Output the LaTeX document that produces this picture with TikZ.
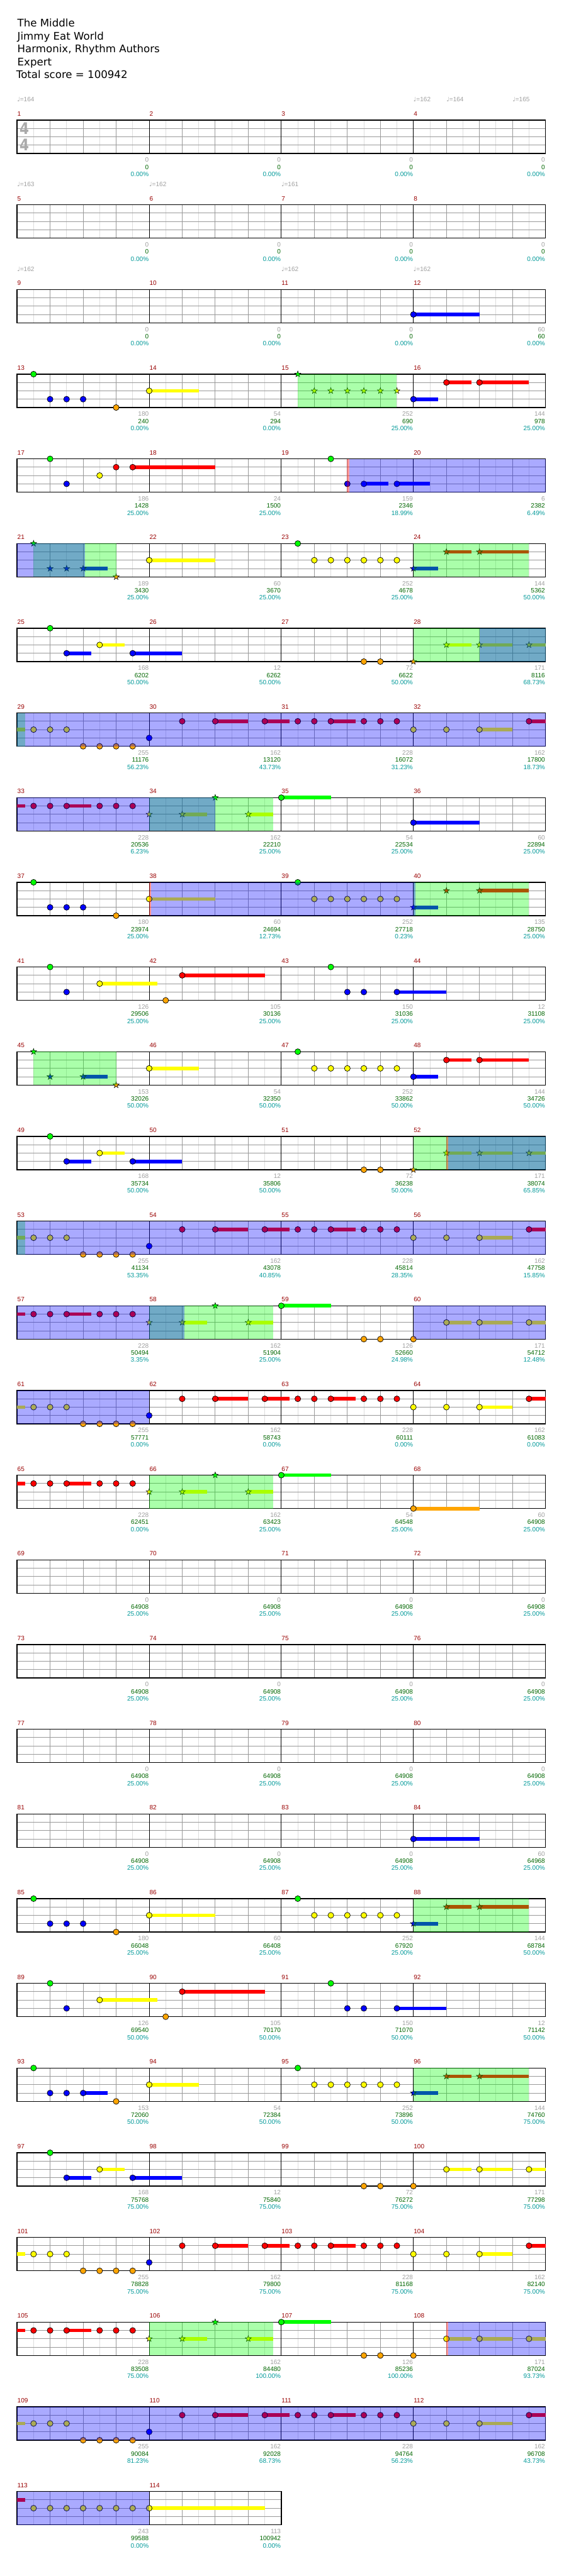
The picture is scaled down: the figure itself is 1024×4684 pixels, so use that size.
\documentclass[tikz,border=0pt]{standalone}
\usepackage{fontspec}
\setmainfont{Liberation Sans}
\newfontfamily\djv{DejaVu Sans}
\definecolor{cG}{RGB}{0,255,0}
\definecolor{cR}{RGB}{255,0,0}
\definecolor{cY}{RGB}{255,255,0}
\definecolor{cB}{RGB}{0,0,255}
\definecolor{cO}{RGB}{255,165,0}
\definecolor{mnum}{RGB}{153,0,0}
\definecolor{lgray}{RGB}{160,160,160}
\definecolor{lgreen}{RGB}{0,102,0}
\definecolor{lcyan}{RGB}{0,153,153}
\definecolor{gridA}{RGB}{221,221,221}
\definecolor{gridB}{RGB}{153,153,153}
\definecolor{tsig}{RGB}{170,170,170}
\tikzset{
  lab/.style={font=\fontsize{11.5}{11.5}\selectfont, inner sep=0pt, anchor=base east},
  mnumst/.style={font=\fontsize{11.5}{11.5}\selectfont, inner sep=0pt, anchor=base west, text=mnum},
  tempost/.style={font=\fontsize{11.5}{11.5}\selectfont, inner sep=0pt, anchor=base west, text=lgray},
  titlest/.style={font=\djv\fontsize{19}{19}\selectfont, inner sep=0pt, anchor=base west, text=black},
  notest/.style={draw=black, line width=0.8pt},
}
\def\currow{0}
\newcommand\rowbase[2]{%
  \pgfmathtruncatemacro\nE{8*#2}\pgfmathtruncatemacro\nEm{8*#2-1}\pgfmathtruncatemacro\nM{#2-1}%
  \fill[white] (0,0) rectangle ({240*#2},60.67);
  \foreach \i in {1,3,...,\nEm} \draw[gridA,line width=1pt] ({30*\i},0) -- ({30*\i},60.67);
  \foreach \i in {2,4,...,\nE} \draw[gridB,line width=1pt] ({30*\i},0) -- ({30*\i},60.67);
  \foreach \l in {1,2,3} \draw[gridB,line width=1pt] (0,{15.17*\l}) -- ({240*#2},{15.17*\l});
  \foreach \i in {1,...,\nM} \draw[black,line width=1pt] ({240*\i},0) -- ({240*\i},60.67);
  \draw[black,line width=1.5pt] (0,0) rectangle ({240*#2},60.67);
  \foreach \k in {0,...,\nM}{\pgfmathtruncatemacro\mn{#1+\k}\node[mnumst] (mn\mn) at ({240*\k+0.5},-7.3) {\mn};}
}
\newcommand\chN[3]{\filldraw[fill=#3,notest] ({30*#1},{15.17*#2}) circle (5.3);}
\newcommand\chS[4]{\fill[#4] ({30*#1},{15.17*#3-3.3}) rectangle ({30*#2},{15.17*#3+3.3});}
\newcommand\chT[3]{\filldraw[fill=#3,draw=black,line width=0.6pt,shift={({30*#1},{15.17*#2})}]
  (-90:5.8) -- (-54:2.3) -- (-18:5.8) -- (18:2.3) -- (54:5.8) -- (90:2.3) -- (126:5.8) -- (162:2.3) -- (198:5.8) -- (234:2.3) -- cycle;}
\newcommand\gReg[2]{\fill[cG,fill opacity=0.3333] ({30*#1},0) rectangle ({30*#2},60.67);}
\newcommand\bReg[2]{\fill[cB,fill opacity=0.3333] ({30*#1},0) rectangle ({30*#2},60.67);}
\newcommand\pStrip[1]{\fill[cR,fill opacity=0.4] ({30*#1-0.5},0) rectangle ({30*#1+3.5},60.67);}
\newcommand\lab[4]{%
  \node[lab,text=lgray] (lg\currow-#1) at ({240*#1+239.3},76.4) {#2};
  \node[lab,text=lgreen] (lt\currow-#1) at ({240*#1+239.3},89.4) {#3};
  \node[lab,text=lcyan] (lc\currow-#1) at ({240*#1+239.3},102.4) {#4\%};}
\newcommand\zlabs{\lab{0}{0}{0}{0.00}\lab{1}{0}{0}{0.00}\lab{2}{0}{0}{0.00}\lab{3}{0}{0}{0.00}}
\newcommand\flabs{\lab{0}{0}{64908}{25.00}\lab{1}{0}{64908}{25.00}\lab{2}{0}{64908}{25.00}\lab{3}{0}{64908}{25.00}}
\newcommand\tempo[2]{\node[tempost] (tp\currow-#1) at ({#1},-33.3) {{\djv\fontsize{11}{11}\selectfont\char"2669}=#2};}
% repeated patterns
\newcommand\patAnotes{%
  \chS{0}{0.5}{2}{cY}\chN{1}{2}{cY}\chN{2}{2}{cY}\chN{3}{2}{cY}
  \foreach \e in {4,5,6,7} {\chN{\e}{4}{cO}}
  \chN{8}{3}{cB}\chN{10}{1}{cR}
  \chS{12}{14}{1}{cR}\chN{12}{1}{cR}\chS{15}{16.5}{1}{cR}\chN{15}{1}{cR}
  \chN{17}{1}{cR}\chN{18}{1}{cR}\chS{19}{20.5}{1}{cR}\chN{19}{1}{cR}
  \chN{21}{1}{cR}\chN{22}{1}{cR}\chN{23}{1}{cR}
  \chN{24}{2}{cY}\chN{26}{2}{cY}\chS{28}{30}{2}{cY}\chN{28}{2}{cY}
  \chS{31}{32}{1}{cR}\chN{31}{1}{cR}}
\newcommand\patA{\patAnotes\gReg{0}{0.5}\bReg{0}{32}}
\newcommand\patBhead{%
  \chN{2}{0}{cG}\chS{3}{4.5}{3}{cB}\chN{3}{3}{cB}\chS{5}{6.5}{2}{cY}\chN{5}{2}{cY}
  \chS{7}{10}{3}{cB}\chN{7}{3}{cB}}
\newcommand\patB{%
  \patBhead
  \chN{21}{4}{cO}\chN{22}{4}{cO}\chT{24}{4}{cO}
  \chS{26}{27.5}{2}{cY}\chT{26}{2}{cY}\chS{28}{30}{2}{cY}\chT{28}{2}{cY}\chS{31}{32}{2}{cY}\chT{31}{2}{cY}
  \gReg{24}{32}}
\newcommand\patC{%
  \chS{0}{0.5}{1}{cR}\chN{1}{1}{cR}\chN{2}{1}{cR}\chS{3}{4.5}{1}{cR}\chN{3}{1}{cR}
  \chN{5}{1}{cR}\chN{6}{1}{cR}\chN{7}{1}{cR}
  \chT{8}{2}{cY}\chS{10}{11.5}{2}{cY}\chT{10}{2}{cY}\chT{12}{0}{cG}\chS{14}{15.5}{2}{cY}\chT{14}{2}{cY}
  \chS{16}{19}{0}{cG}\chN{16}{0}{cG}
  \gReg{8}{15.5}}
\newcommand\yEnd{%
  \chS{26}{27.5}{2}{cY}\chN{26}{2}{cY}\chS{28}{30}{2}{cY}\chN{28}{2}{cY}\chS{31}{32}{2}{cY}\chN{31}{2}{cY}}
\newcommand\riffA{\chN{1}{0}{cG}\chN{2}{3}{cB}\chN{3}{3}{cB}\chN{4}{3}{cB}\chN{6}{4}{cO}}
\newcommand\ySix{\chN{17}{0}{cG}\foreach \e in {18,...,23} {\chN{\e}{2}{cY}}}
\newcommand\spEnd{%
  \chS{24}{25.5}{3}{cB}\chT{24}{3}{cB}\chS{26}{27.5}{1}{cR}\chT{26}{1}{cR}\chS{28}{31}{1}{cR}\chT{28}{1}{cR}\gReg{24}{31}}
\begin{document}
\begin{tikzpicture}[x=1pt,y=-1pt]
\useasboundingbox (0,0) rectangle (1024,4684);
\fill[white] (0,0) rectangle (1024,4684);
\node[titlest] (title1) at (31.5,49) {The Middle};
\node[titlest] (title2) at (31.5,72.3) {Jimmy Eat World};
\node[titlest] (title3) at (31.5,95.7) {Harmonix, Rhythm Authors};
\node[titlest] (title4) at (31.5,119) {Expert};
\node[titlest] (title5) at (29.5,142.3) {Total score = 100942};
% ---------- row 0
\def\currow{0}
\begin{scope}[shift={(31,218.3)}]
\rowbase{1}{4}
\node[inner sep=0pt,text=tsig,font=\djv\bfseries\fontsize{29}{29}\selectfont] (ts1) at (13.2,15.5) {\scalebox{0.85}[1]{4}};
\node[inner sep=0pt,text=tsig,font=\djv\bfseries\fontsize{29}{29}\selectfont] (ts2) at (13.2,45.4) {\scalebox{0.85}[1]{4}};
\tempo{0}{164}\tempo{720}{162}\tempo{780}{164}\tempo{900}{165}
\zlabs
\end{scope}
% ---------- row 1
\def\currow{1}
\begin{scope}[shift={(31,372.3)}]
\rowbase{5}{4}
\tempo{0}{163}\tempo{240}{162}\tempo{480}{161}
\zlabs
\end{scope}
% ---------- row 2
\def\currow{2}
\begin{scope}[shift={(31,526.3)}]
\rowbase{9}{4}
\tempo{0}{162}\tempo{480}{162}\tempo{720}{162}
\chS{24}{28}{3}{cB}\chN{24}{3}{cB}
\lab{0}{0}{0}{0.00}\lab{1}{0}{0}{0.00}\lab{2}{0}{0}{0.00}\lab{3}{60}{60}{0.00}
\end{scope}
% ---------- row 3
\def\currow{3}
\begin{scope}[shift={(31,680.3)}]
\rowbase{13}{4}
\riffA
\chS{8}{11}{2}{cY}\chN{8}{2}{cY}
\chT{17}{0}{cG}\foreach \e in {18,...,23} {\chT{\e}{2}{cY}}
\chS{24}{25.5}{3}{cB}\chN{24}{3}{cB}\chS{26}{27.5}{1}{cR}\chN{26}{1}{cR}\chS{28}{31}{1}{cR}\chN{28}{1}{cR}
\gReg{17}{23}
\lab{0}{180}{240}{0.00}\lab{1}{54}{294}{0.00}\lab{2}{252}{690}{25.00}\lab{3}{144}{978}{25.00}
\end{scope}
% ---------- row 4
\def\currow{4}
\begin{scope}[shift={(31,834.3)}]
\rowbase{17}{4}
\chN{2}{0}{cG}\chN{3}{3}{cB}\chN{5}{2}{cY}\chN{6}{1}{cR}\chS{7}{12}{1}{cR}\chN{7}{1}{cR}
\chN{19}{0}{cG}\chN{20}{3}{cB}\chS{21}{22.5}{3}{cB}\chN{21}{3}{cB}\chS{23}{25}{3}{cB}\chN{23}{3}{cB}
\bReg{20.12}{32}\pStrip{20}
\lab{0}{186}{1428}{25.00}\lab{1}{24}{1500}{25.00}\lab{2}{159}{2346}{18.99}\lab{3}{6}{2382}{6.49}
\end{scope}
% ---------- row 5
\def\currow{5}
\begin{scope}[shift={(31,988.3)}]
\rowbase{21}{4}
\chT{1}{0}{cG}\chT{2}{3}{cB}\chT{3}{3}{cB}\chS{4}{5.5}{3}{cB}\chT{4}{3}{cB}\chT{6}{4}{cO}
\chS{8}{12}{2}{cY}\chN{8}{2}{cY}
\ySix\spEnd
\gReg{1}{6}\bReg{0}{4.13}
\lab{0}{189}{3430}{25.00}\lab{1}{60}{3670}{25.00}\lab{2}{252}{4678}{25.00}\lab{3}{144}{5362}{50.00}
\end{scope}
% ---------- row 6
\def\currow{6}
\begin{scope}[shift={(31,1142.3)}]
\rowbase{25}{4}
\patB\bReg{28}{32}
\lab{0}{168}{6202}{50.00}\lab{1}{12}{6262}{50.00}\lab{2}{72}{6622}{50.00}\lab{3}{171}{8116}{68.73}
\end{scope}
% ---------- row 7
\def\currow{7}
\begin{scope}[shift={(31,1296.3)}]
\rowbase{29}{4}
\patA
\lab{0}{255}{11176}{56.23}\lab{1}{162}{13120}{43.73}\lab{2}{228}{16072}{31.23}\lab{3}{162}{17800}{18.73}
\end{scope}
% ---------- row 8
\def\currow{8}
\begin{scope}[shift={(31,1450.3)}]
\rowbase{33}{4}
\patC\chS{24}{28}{3}{cB}\chN{24}{3}{cB}
\bReg{0}{12}
\lab{0}{228}{20536}{6.23}\lab{1}{162}{22210}{25.00}\lab{2}{54}{22534}{25.00}\lab{3}{60}{22894}{25.00}
\end{scope}
% ---------- row 9
\def\currow{9}
\begin{scope}[shift={(31,1604.3)}]
\rowbase{37}{4}
\riffA
\chS{8}{12}{2}{cY}\chN{8}{2}{cY}
\ySix
\chS{24}{25.5}{3}{cB}\chT{24}{3}{cB}\chT{26}{1}{cR}\chS{28}{31}{1}{cR}\chT{28}{1}{cR}
\gReg{24}{31}\bReg{8.12}{24.13}\pStrip{8}
\lab{0}{180}{23974}{25.00}\lab{1}{60}{24694}{12.73}\lab{2}{252}{27718}{0.23}\lab{3}{135}{28750}{25.00}
\end{scope}
% ---------- row 10
\def\currow{10}
\begin{scope}[shift={(31,1758.3)}]
\rowbase{41}{4}
\chN{2}{0}{cG}\chN{3}{3}{cB}\chS{5}{8.5}{2}{cY}\chN{5}{2}{cY}\chN{9}{4}{cO}\chS{10}{15}{1}{cR}\chN{10}{1}{cR}
\chN{19}{0}{cG}\chN{20}{3}{cB}\chN{21}{3}{cB}\chS{23}{26}{3}{cB}\chN{23}{3}{cB}
\lab{0}{126}{29506}{25.00}\lab{1}{105}{30136}{25.00}\lab{2}{150}{31036}{25.00}\lab{3}{12}{31108}{25.00}
\end{scope}
% ---------- row 11
\def\currow{11}
\begin{scope}[shift={(31,1912.3)}]
\rowbase{45}{4}
\chT{1}{0}{cG}\chT{2}{3}{cB}\chS{4}{5.5}{3}{cB}\chT{4}{3}{cB}\chT{6}{4}{cO}
\chS{8}{11}{2}{cY}\chN{8}{2}{cY}
\ySix
\chS{24}{25.5}{3}{cB}\chN{24}{3}{cB}\chS{26}{27.5}{1}{cR}\chN{26}{1}{cR}\chS{28}{31}{1}{cR}\chN{28}{1}{cR}
\gReg{1}{6}
\lab{0}{153}{32026}{50.00}\lab{1}{54}{32350}{50.00}\lab{2}{252}{33862}{50.00}\lab{3}{144}{34726}{50.00}
\end{scope}
% ---------- row 12
\def\currow{12}
\begin{scope}[shift={(31,2066.3)}]
\rowbase{49}{4}
\patB\bReg{26.12}{32}\pStrip{26}
\lab{0}{168}{35734}{50.00}\lab{1}{12}{35806}{50.00}\lab{2}{72}{36238}{50.00}\lab{3}{171}{38074}{65.85}
\end{scope}
% ---------- row 13
\def\currow{13}
\begin{scope}[shift={(31,2220.3)}]
\rowbase{53}{4}
\patA
\lab{0}{255}{41134}{53.35}\lab{1}{162}{43078}{40.85}\lab{2}{228}{45814}{28.35}\lab{3}{162}{47758}{15.85}
\end{scope}
% ---------- row 14
\def\currow{14}
\begin{scope}[shift={(31,2374.3)}]
\rowbase{57}{4}
\patC
\chN{21}{4}{cO}\chN{22}{4}{cO}\chN{24}{4}{cO}\yEnd
\bReg{0}{10.13}\bReg{24}{32}
\lab{0}{228}{50494}{3.35}\lab{1}{162}{51904}{25.00}\lab{2}{126}{52660}{24.98}\lab{3}{171}{54712}{12.48}
\end{scope}
% ---------- row 15
\def\currow{15}
\begin{scope}[shift={(31,2528.3)}]
\rowbase{61}{4}
\patAnotes\bReg{0}{8}
\lab{0}{255}{57771}{0.00}\lab{1}{162}{58743}{0.00}\lab{2}{228}{60111}{0.00}\lab{3}{162}{61083}{0.00}
\end{scope}
% ---------- row 16
\def\currow{16}
\begin{scope}[shift={(31,2682.3)}]
\rowbase{65}{4}
\patC\chS{24}{28}{4}{cO}\chN{24}{4}{cO}
\lab{0}{228}{62451}{0.00}\lab{1}{162}{63423}{25.00}\lab{2}{54}{64548}{25.00}\lab{3}{60}{64908}{25.00}
\end{scope}
% ---------- rows 17-19 (empty)
\def\currow{17}\begin{scope}[shift={(31,2836.3)}]\rowbase{69}{4}\flabs\end{scope}
\def\currow{18}\begin{scope}[shift={(31,2990.3)}]\rowbase{73}{4}\flabs\end{scope}
\def\currow{19}\begin{scope}[shift={(31,3144.3)}]\rowbase{77}{4}\flabs\end{scope}
% ---------- row 20
\def\currow{20}
\begin{scope}[shift={(31,3298.3)}]
\rowbase{81}{4}
\chS{24}{28}{3}{cB}\chN{24}{3}{cB}
\lab{0}{0}{64908}{25.00}\lab{1}{0}{64908}{25.00}\lab{2}{0}{64908}{25.00}\lab{3}{60}{64968}{25.00}
\end{scope}
% ---------- row 21
\def\currow{21}
\begin{scope}[shift={(31,3452.3)}]
\rowbase{85}{4}
\riffA\chS{8}{12}{2}{cY}\chN{8}{2}{cY}\ySix\spEnd
\lab{0}{180}{66048}{25.00}\lab{1}{60}{66408}{25.00}\lab{2}{252}{67920}{25.00}\lab{3}{144}{68784}{50.00}
\end{scope}
% ---------- row 22
\def\currow{22}
\begin{scope}[shift={(31,3606.3)}]
\rowbase{89}{4}
\chN{2}{0}{cG}\chN{3}{3}{cB}\chS{5}{8.5}{2}{cY}\chN{5}{2}{cY}\chN{9}{4}{cO}\chS{10}{15}{1}{cR}\chN{10}{1}{cR}
\chN{19}{0}{cG}\chN{20}{3}{cB}\chN{21}{3}{cB}\chS{23}{26}{3}{cB}\chN{23}{3}{cB}
\lab{0}{126}{69540}{50.00}\lab{1}{105}{70170}{50.00}\lab{2}{150}{71070}{50.00}\lab{3}{12}{71142}{50.00}
\end{scope}
% ---------- row 23
\def\currow{23}
\begin{scope}[shift={(31,3760.3)}]
\rowbase{93}{4}
\chN{1}{0}{cG}\chN{2}{3}{cB}\chN{3}{3}{cB}\chS{4}{5.5}{3}{cB}\chN{4}{3}{cB}\chN{6}{4}{cO}
\chS{8}{11}{2}{cY}\chN{8}{2}{cY}\ySix\spEnd
\lab{0}{153}{72060}{50.00}\lab{1}{54}{72384}{50.00}\lab{2}{252}{73896}{50.00}\lab{3}{144}{74760}{75.00}
\end{scope}
% ---------- row 24
\def\currow{24}
\begin{scope}[shift={(31,3914.3)}]
\rowbase{97}{4}
\patBhead\chN{21}{4}{cO}\chN{22}{4}{cO}\chN{24}{4}{cO}\yEnd
\lab{0}{168}{75768}{75.00}\lab{1}{12}{75840}{75.00}\lab{2}{72}{76272}{75.00}\lab{3}{171}{77298}{75.00}
\end{scope}
% ---------- row 25
\def\currow{25}
\begin{scope}[shift={(31,4068.3)}]
\rowbase{101}{4}
\patAnotes
\lab{0}{255}{78828}{75.00}\lab{1}{162}{79800}{75.00}\lab{2}{228}{81168}{75.00}\lab{3}{162}{82140}{75.00}
\end{scope}
% ---------- row 26
\def\currow{26}
\begin{scope}[shift={(31,4222.3)}]
\rowbase{105}{4}
\patC\chN{21}{4}{cO}\chN{22}{4}{cO}\chN{24}{4}{cO}\yEnd
\bReg{26.12}{32}\pStrip{26}
\lab{0}{228}{83508}{75.00}\lab{1}{162}{84480}{100.00}\lab{2}{126}{85236}{100.00}\lab{3}{171}{87024}{93.73}
\end{scope}
% ---------- row 27
\def\currow{27}
\begin{scope}[shift={(31,4376.3)}]
\rowbase{109}{4}
\patAnotes\bReg{0}{32}
\lab{0}{255}{90084}{81.23}\lab{1}{162}{92028}{68.73}\lab{2}{228}{94764}{56.23}\lab{3}{162}{96708}{43.73}
\end{scope}
% ---------- row 28
\def\currow{28}
\begin{scope}[shift={(31,4530.3)}]
\rowbase{113}{2}
\chS{0}{0.5}{1}{cR}\foreach \e in {1,...,7} {\chN{\e}{2}{cY}}
\chS{8}{15}{2}{cY}\chN{8}{2}{cY}
\bReg{0}{8}
\lab{0}{243}{99588}{0.00}\lab{1}{113}{100942}{0.00}
\end{scope}
\end{tikzpicture}
\end{document}
